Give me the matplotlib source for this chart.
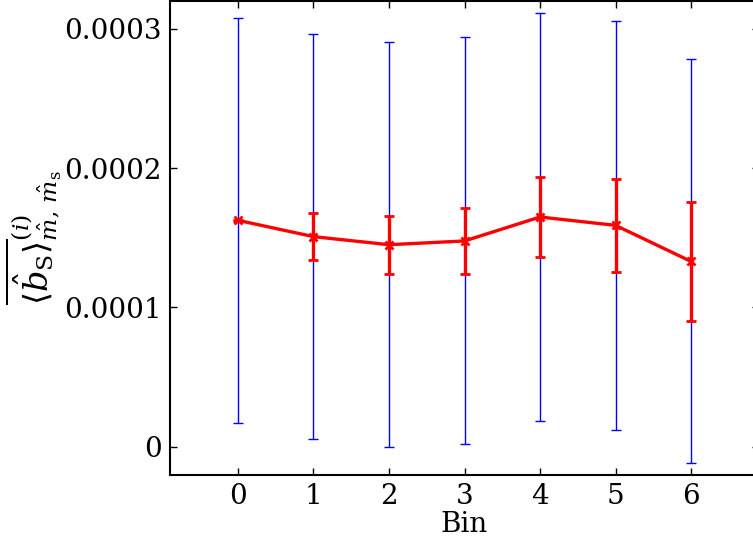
import numpy as np
import matplotlib
matplotlib.use("Agg")
import matplotlib.pyplot as plt

# bin index and estimator values
bins = [0, 1, 2, 3, 4, 5, 6]
mean_vals = [1.625e-4, 1.508e-4, 1.450e-4, 1.477e-4, 1.649e-4, 1.589e-4, 1.330e-4]
# error on the mean (red, thick)
err_mean = [0.05e-5, 1.67e-5, 2.08e-5, 2.37e-5, 2.89e-5, 3.32e-5, 4.27e-5]
# spread (blue, thin)
err_spread = [1.454e-4, 1.454e-4, 1.454e-4, 1.461e-4, 1.462e-4, 1.466e-4, 1.450e-4]

yticks = [0, 0.0001, 0.0002, 0.0003]
ytick_labels = ["0", "0.0001", "0.0002", "0.0003"]

plt.rcParams['font.family'] = 'DejaVu Serif'
plt.rcParams['mathtext.fontset'] = 'dejavuserif'
plt.rcParams['font.size'] = 20

fig = plt.figure(figsize=(7.53, 5.4), dpi=100)
ax = fig.add_axes([170 / 753, 65.5 / 540, (759 - 170) / 753, (539 - 65.5) / 540])

# wide blue bars first, red on top
ax.errorbar(bins, mean_vals, yerr=err_spread, fmt='none', ecolor='blue',
            elinewidth=1.0, capsize=3.5, capthick=1.0)
ax.errorbar(bins, mean_vals, yerr=err_mean, fmt='-x', color='red', lw=2.4,
            elinewidth=2.4, capsize=3.5, capthick=2.2, ms=6, mew=2)

ax.set_xlim(-0.9, 6.9)
ax.set_ylim(-0.00002, 0.00032)
ax.set_xticks(bins)
ax.set_yticks(yticks)
ax.set_yticklabels(ytick_labels)

ax.tick_params(direction='in', top=True, right=True, length=5, width=1,
               labelsize=20)
ax.tick_params(axis='x', pad=6)
ax.tick_params(axis='y', pad=6)
for s in ax.spines.values():
    s.set_linewidth(1.5)

ax.set_xlabel('Bin', labelpad=1)
ax.set_ylabel(r'$\overline{\langle\hat{b}_\mathrm{S}\rangle}^{(i)}_{\hat{m},\,\hat{m}_\mathrm{s}}$',
              fontsize=24, labelpad=0)

fig.savefig('out.png', dpi=100)
